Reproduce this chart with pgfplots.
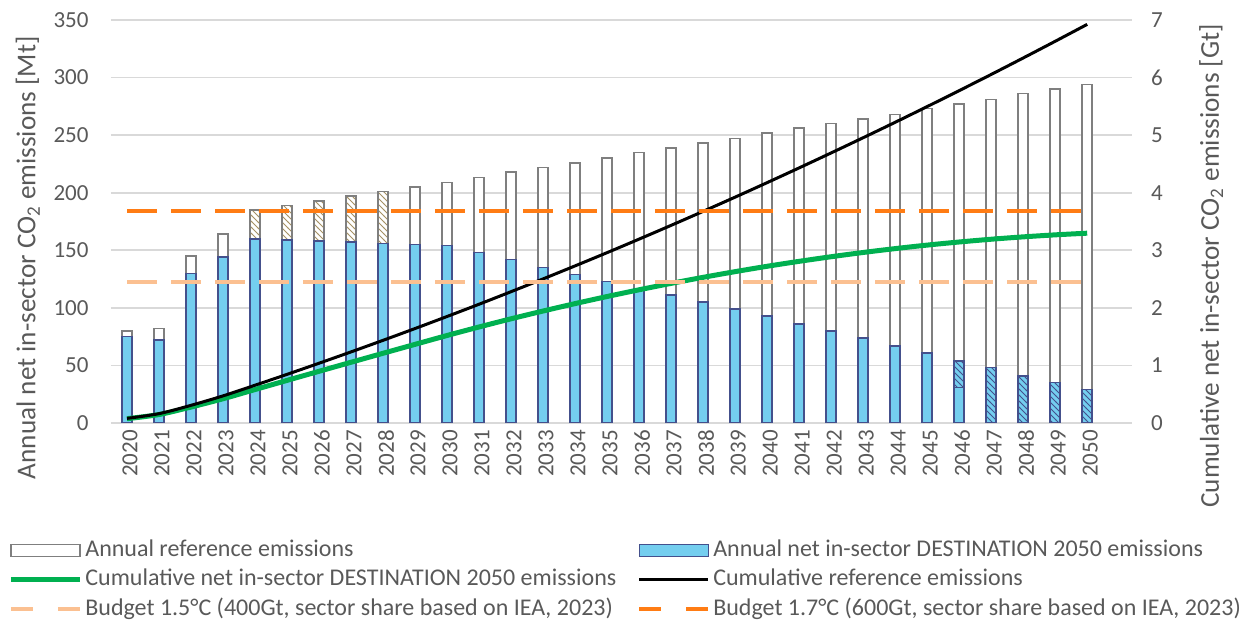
\documentclass[border=0pt]{standalone}
\usepackage{fontspec}
\setmainfont{Carlito}
\usepackage{pgfplots}
\usepackage{pgfplotstable}
\pgfplotsset{compat=1.18}
\usetikzlibrary{patterns}

\definecolor{txt}{RGB}{89,89,89}
\definecolor{gridc}{RGB}{217,217,217}
\definecolor{barblue}{RGB}{116,206,239}
\definecolor{bluedge}{RGB}{68,80,140}
\definecolor{refedge}{RGB}{127,127,127}
\definecolor{hatchtan}{RGB}{165,145,100}
\definecolor{cumgreen}{RGB}{0,176,80}
\definecolor{budgetA}{RGB}{251,192,145}
\definecolor{budgetB}{RGB}{255,124,20}

% annual emissions [Mt], idx 0 = 2020
\pgfplotstableread{
idx ref net
0 80 75
1 82 72
2 145 130
3 164 144
4 185 160
5 189 159
6 193 158
7 197 157
8 201 156
9 205 155
10 209 154
11 213 148
12 218 142
13 222 135
14 226 129
15 230 123
16 235 117
17 239 111
18 243 105
19 247 99
20 252 93
21 256 86
22 260 80
23 264 74
24 268 67
25 273 61
26 277 31
}\annual

% hatched parts
\pgfplotstableread{
idx val
4 185
5 189
6 193
7 197
8 201
}\gap
\pgfplotstableread{
idx val ref
26 54 277
27 48 281
28 41 286
29 35 290
30 29 294
}\late

% cumulative emissions [Gt]
\pgfplotstableread{
idx cumref cumnet
0 0.080 0.075
1 0.162 0.147
2 0.307 0.277
3 0.471 0.421
4 0.656 0.581
5 0.845 0.740
6 1.038 0.898
7 1.235 1.055
8 1.436 1.211
9 1.641 1.366
10 1.850 1.520
11 2.063 1.668
12 2.281 1.810
13 2.503 1.945
14 2.729 2.074
15 2.959 2.197
16 3.194 2.314
17 3.433 2.425
18 3.676 2.530
19 3.923 2.629
20 4.175 2.722
21 4.431 2.808
22 4.691 2.888
23 4.955 2.962
24 5.223 3.029
25 5.496 3.090
26 5.773 3.144
27 6.054 3.192
28 6.340 3.233
29 6.630 3.268
30 6.924 3.297
}\cumul

\tikzset{reflabel/.style={rotate=90, anchor=center, font=\fontsize{13.6}{15}\selectfont, text=txt}}
\pgfplotsset{
  common/.style={
    at={(55.5pt,-211.5pt)}, anchor=south west,
    scale only axis, width=510.5pt, height=201.5pt,
    xmin=-0.5, xmax=31.4,
    axis line style={draw=none},
    major tick length=0pt,
    tick label style={font=\fontsize{11.5}{13}\selectfont, text=txt},
    /pgf/number format/assume math mode=true,
  },
  barstyle/.style={ybar, bar width=5pt, bar shift=0pt, line width=0.75pt},
  rectlegend/.style={legend image code/.code={\draw[##1] (0pt,-3pt) rectangle (34.5pt,3pt);}},
  dashlegend/.style={legend image code/.code={\draw[##1, dash pattern=on 11pt off 12.5pt] (0pt,0pt) -- (34.5pt,0pt);}},
  linelegend/.style={legend image code/.code={\draw[##1] (0pt,0pt) -- (34.5pt,0pt);}},
}

\begin{document}
\begin{tikzpicture}
\useasboundingbox (0,0) rectangle (625pt,-312pt);
\begin{axis}[common,
  ymin=0, ymax=350, ytick={0,50,...,350},
  ymajorgrids, grid style={gridc, line width=0.8pt},
  xtick={0,...,30},
  xticklabels={2020,2021,2022,2023,2024,2025,2026,2027,2028,2029,2030,2031,2032,2033,2034,2035,2036,2037,2038,2039,2040,2041,2042,2043,2044,2045,2046,2047,2048,2049,2050},
  xticklabel style={rotate=90, anchor=east, yshift=-1.5pt},
  yticklabel style={anchor=east, xshift=-7.7pt},
  ylabel={Annual net in-sector CO\textsubscript{2} emissions [Mt]},
  every axis y label/.style={at={(axis description cs:-0.0815,0.41)}, reflabel},
]
\addplot[barstyle, fill=white, draw=refedge] table[x=idx, y=ref]{\annual};
\addplot[barstyle, fill=white, draw=refedge] table[x=idx, y=ref]{\late};
\addplot[barstyle, fill=white, draw=refedge, pattern=north west lines, pattern color=hatchtan] table[x=idx, y=val]{\gap};
\addplot[barstyle, fill=barblue, draw=bluedge, postaction={pattern=north west lines, pattern color=bluedge}] table[x=idx, y=val]{\late};
\addplot[barstyle, fill=barblue, draw=bluedge] table[x=idx, y=net]{\annual};
\end{axis}

\begin{axis}[common,
  ymin=0, ymax=7, ytick={0,...,7},
  hide x axis,
  yticklabel pos=right,
  yticklabel style={anchor=west, xshift=6pt},
  ylabel={Cumulative net in-sector CO\textsubscript{2} emissions [Gt]},
  every axis y label/.style={at={(axis description cs:1.0775,0.39)}, reflabel},
  legend columns=2,
  legend cell align=left,
  legend style={at={(axis description cs:-0.1009,-0.283)}, anchor=north west,
    draw=none, fill=none, inner sep=0pt, row sep=1.75pt,
    font=\fontsize{12}{14}\selectfont, text=txt,
    nodes={inner sep=1pt, text height=8.5pt, text depth=2.5pt},
    /tikz/column 1/.style={column sep=0.5pt},
    /tikz/column 2/.style={column sep=9.5pt},
    /tikz/column 3/.style={column sep=0.5pt}},
  linelegend,
]
\addlegendimage{fill=white, draw=refedge, line width=0.75pt, rectlegend}
\addlegendentry{Annual reference emissions}
\addlegendimage{fill=barblue, draw=bluedge, line width=0.75pt, rectlegend}
\addlegendentry{Annual net in-sector DESTINATION 2050 emissions}
\addplot[cumgreen, line width=2.5pt, smooth] table[x=idx, y=cumnet]{\cumul};
\addlegendentry{Cumulative net in-sector DESTINATION 2050 emissions}
\addplot[black, line width=1.5pt, smooth] table[x=idx, y=cumref]{\cumul};
\addlegendentry{Cumulative reference emissions}
\addplot[budgetA, line width=2pt, dash pattern=on 15pt off 7pt, dashlegend]
  coordinates {(0,2.45) (30,2.45)};
\addlegendentry{Budget 1.5°C (400Gt, sector share based on IEA, 2023)}
\addplot[budgetB, line width=2pt, dash pattern=on 15pt off 7pt, dashlegend]
  coordinates {(0,3.69) (30,3.69)};
\addlegendentry{Budget 1.7°C (600Gt, sector share based on IEA, 2023)}
\end{axis}
\end{tikzpicture}
\end{document}
